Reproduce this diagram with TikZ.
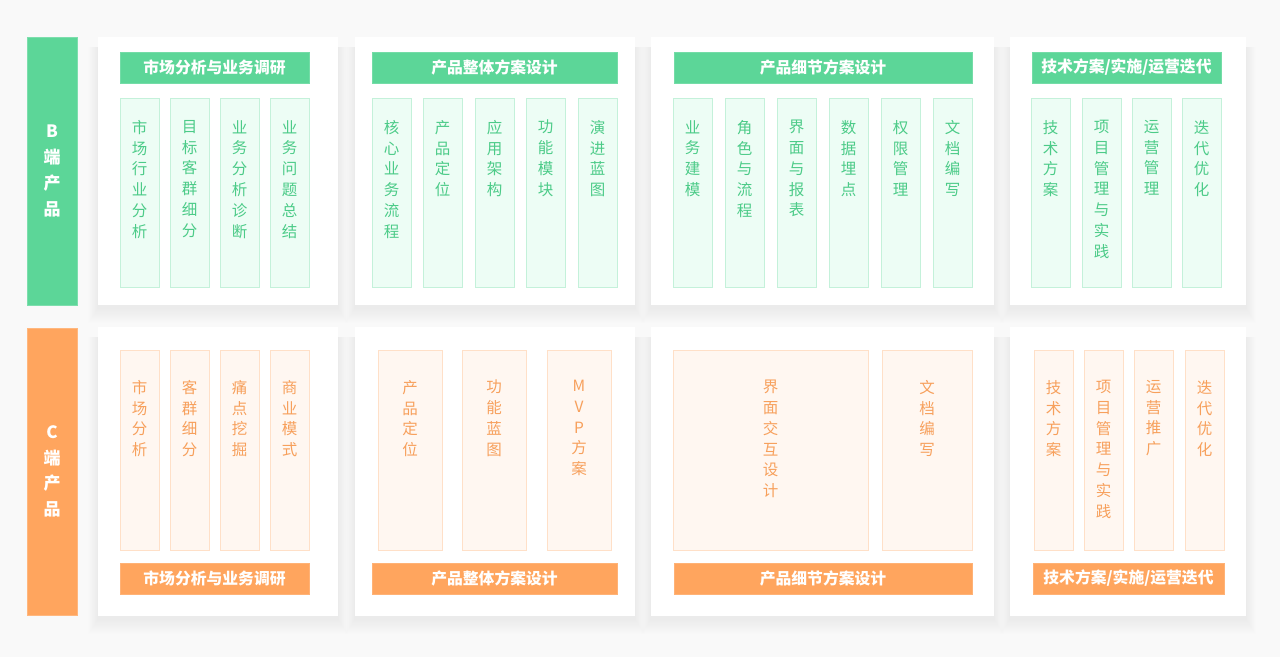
\documentclass[tikz,border=0pt]{standalone}
\usepackage{fontspec}
\setmainfont{Noto Sans CJK SC}
\usepackage{tikz}
\usetikzlibrary{positioning}
\definecolor{bmain}{RGB}{92,214,152}
\definecolor{bfill}{RGB}{237,253,245}
\definecolor{bline}{RGB}{196,241,218}
\definecolor{btext}{RGB}{76,203,136}
\definecolor{cmain}{RGB}{255,165,94}
\definecolor{cfill}{RGB}{255,247,241}
\definecolor{cline}{RGB}{255,224,200}
\definecolor{ctext}{RGB}{247,160,92}
\definecolor{bgray}{RGB}{249,249,249}
\newcommand{\colB}[4]{% name, left, width, text
  \node[bcol, minimum width=#3] (#1) at (#2,98) {};
  \node[btxt, below=22pt of #1.north] (#1-t) {#4};
}
\newcommand{\colC}[4]{% name, left, width, text
  \node[ccol, minimum width=#3] (#1) at (#2,350) {};
  \node[ctxt, below=30pt of #1.north] (#1-t) {#4};
}
\newcommand{\softshadow}[4]{% left, top, width, height
  \foreach \k in {1,...,14}
    \fill[black, opacity=0.0035] (#1-\k*0.7, #2+10) rectangle (#1+#3+\k*0.7, #2+#4+3+\k*1.1);
}

\begin{document}
\begin{tikzpicture}[x=1pt,y=-1pt]
  \tikzset{
    box/.style={rectangle, anchor=north west, inner sep=0pt, outer sep=0pt},
    panel/.style={box, fill=white, minimum height=#1},
    side/.style={box, minimum width=50pt, minimum height=#1},
    bartxt/.style={text=white, font=\fontsize{15.8pt}{18pt}\selectfont\bfseries},
    sidetxt/.style={text=white, font=\fontsize{17pt}{25.7pt}\selectfont\bfseries, align=center},
    bbar/.style={box, fill=bmain, draw=bmain!85!white, line width=0.8pt, minimum height=31pt},
    cbar/.style={box, fill=cmain, draw=cmain!85!white, line width=0.8pt, minimum height=31pt},
    bcol/.style={box, fill=bfill, draw=bline, line width=0.8pt, minimum height=189pt},
    ccol/.style={box, fill=cfill, draw=cline, line width=0.8pt, minimum height=200pt},
    btxt/.style={inner sep=0pt, text=btext, align=center, font=\fontsize{15.5pt}{20.8pt}\selectfont},
    ctxt/.style={inner sep=0pt, text=ctext, align=center, font=\fontsize{15.5pt}{20.8pt}\selectfont},
  }
  \fill[bgray] (0,0) rectangle (1280,657);
  \useasboundingbox (0,0) rectangle (1280,657);

  % panels
  \foreach \x/\w [count=\i] in {98/240,355/280,651/343,1010/236}{
    \softshadow{\x}{37}{\w}{268}
    \softshadow{\x}{327}{\w}{289}
    \node[panel=268pt, minimum width=\w] (pB\i) at (\x,37) {};
    \node[panel=289pt, minimum width=\w] (pC\i) at (\x,327) {};
  }

  % side labels
  \node[side=268pt, fill=bmain, draw=bmain!80!white] (sB) at (27,37) {};
  \node[sidetxt] at (sB.center) {B\\端\\产\\品};
  \node[side=287pt, fill=cmain, draw=cmain!80!white] (sC) at (27,328) {};
  \node[sidetxt] at (sC.center) {C\\端\\产\\品};

  % B row
  \node[bbar, minimum width=189pt] (hB1) at (120,52) {};
  \node[bartxt] at (hB1.center) {市场分析与业务调研};
  \node[bbar, minimum width=245pt] (hB2) at (372,52) {};
  \node[bartxt] at (hB2.center) {产品整体方案设计};
  \node[bbar, minimum width=298pt] (hB3) at (674,52) {};
  \node[bartxt] at (hB3.center) {产品细节方案设计};
  \node[bbar, minimum width=189pt] (hB4) at (1032,52) {};
  \node[bartxt] at (hB4.center) {技术方案/实施/运营迭代};

  \colB{b11}{120}{39pt}{市\\场\\行\\业\\分\\析}
  \colB{b12}{170}{39pt}{目\\标\\客\\群\\细\\分}
  \colB{b13}{220}{39pt}{业\\务\\分\\析\\诊\\断}
  \colB{b14}{270}{39pt}{业\\务\\问\\题\\总\\结}

  \colB{b21}{372}{39pt}{核\\心\\业\\务\\流\\程}
  \colB{b22}{423}{39pt}{产\\品\\定\\位}
  \colB{b23}{475}{39pt}{应\\用\\架\\构}
  \colB{b24}{526}{39pt}{功\\能\\模\\块}
  \colB{b25}{578}{39pt}{演\\进\\蓝\\图}

  \colB{b31}{673}{39pt}{业\\务\\建\\模}
  \colB{b32}{725}{39pt}{角\\色\\与\\流\\程}
  \colB{b33}{777}{39pt}{界\\面\\与\\报\\表}
  \colB{b34}{829}{39pt}{数\\据\\埋\\点}
  \colB{b35}{881}{39pt}{权\\限\\管\\理}
  \colB{b36}{933}{39pt}{文\\档\\编\\写}

  \colB{b41}{1031}{39pt}{技\\术\\方\\案}
  \colB{b42}{1082}{39pt}{项\\目\\管\\理\\与\\实\\践}
  \colB{b43}{1132}{39pt}{运\\营\\管\\理}
  \colB{b44}{1182}{39pt}{迭\\代\\优\\化}

  % C row
  \colC{c11}{120}{39pt}{市\\场\\分\\析}
  \colC{c12}{170}{39pt}{客\\群\\细\\分}
  \colC{c13}{220}{39pt}{痛\\点\\挖\\掘}
  \colC{c14}{270}{39pt}{商\\业\\模\\式}

  \colC{c21}{378}{64pt}{产\\品\\定\\位}
  \colC{c22}{462}{64pt}{功\\能\\蓝\\图}
  \colC{c23}{547}{64pt}{M\\V\\P\\方\\案}

  \colC{c31}{673}{195pt}{界\\面\\交\\互\\设\\计}
  \colC{c32}{882}{90pt}{文\\档\\编\\写}

  \colC{c41}{1034}{39pt}{技\\术\\方\\案}
  \colC{c42}{1084}{39pt}{项\\目\\管\\理\\与\\实\\践}
  \colC{c43}{1134}{39pt}{运\\营\\推\\广}
  \colC{c44}{1185}{39pt}{迭\\代\\优\\化}

  \node[cbar, minimum width=189pt] (fC1) at (120,563) {};
  \node[bartxt] at (fC1.center) {市场分析与业务调研};
  \node[cbar, minimum width=245pt] (fC2) at (372,563) {};
  \node[bartxt] at (fC2.center) {产品整体方案设计};
  \node[cbar, minimum width=298pt] (fC3) at (674,563) {};
  \node[bartxt] at (fC3.center) {产品细节方案设计};
  \node[cbar, minimum width=191pt] (fC4) at (1033,563) {};
  \node[bartxt] at (fC4.center) {技术方案/实施/运营迭代};
\end{tikzpicture}
\end{document}
